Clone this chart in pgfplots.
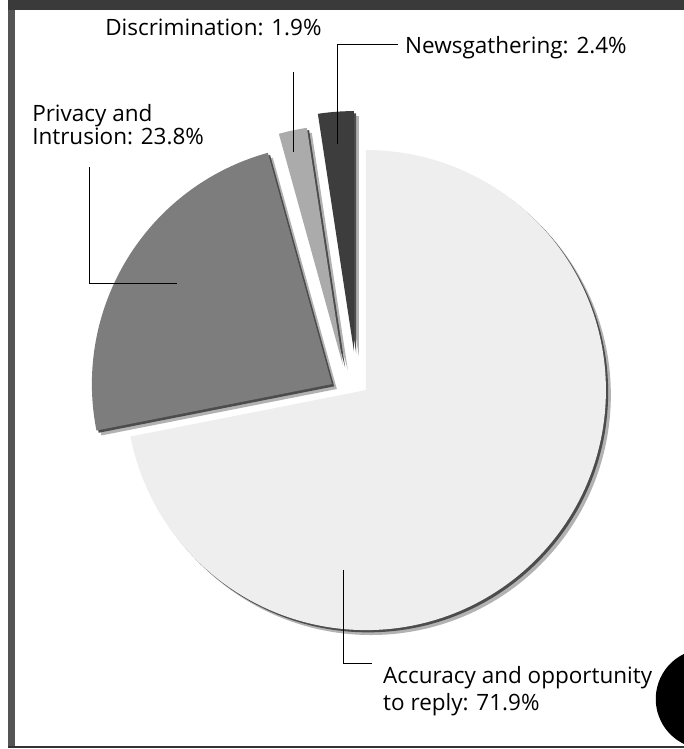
\documentclass[border=0pt]{standalone}
\usepackage{pgfplots}
\pgfplotsset{compat=1.18}
\usepackage{fontspec}
\setmainfont{Open Sans}

\definecolor{framegray}{HTML}{3A3A3A}
\definecolor{bordergray}{HTML}{555555}
\definecolor{accfill}{HTML}{EEEEEE}
\definecolor{privfill}{HTML}{7D7D7D}
\definecolor{discfill}{HTML}{ABABAB}
\definecolor{newsfill}{HTML}{3D3D3D}

% pie radius
\newcommand{\R}{6cm}
% one pie slice: apex x, apex y (axis units), start angle, share in %, style
\newcommand{\slice}[5]{%
  \pgfmathsetmacro{\startang}{#3}%
  \pgfmathsetmacro{\endang}{#3-3.6*#4}%
  \edef\temp{\noexpand\fill[#5] (axis cs:#1,#2) -- ++(\startang:\R)
    arc[start angle=\startang, end angle=\endang, radius=\R] -- cycle;}%
  \temp}
\newcommand{\shadedslice}[5]{%
  \slice{#1}{#2}{#3}{#4}{black!30, xshift=3.5pt, yshift=-3.5pt}%
  \slice{#1}{#2}{#3}{#4}{black!70, xshift=1.6pt, yshift=-1.6pt}%
  \slice{#1}{#2}{#3}{#4}{#5}}

\begin{document}
\begin{tikzpicture}
\begin{axis}[
    x=0.025cm, y=0.025cm,
    xmin=0, xmax=684, ymin=0, ymax=749,
    hide axis, scale only axis, clip=false,
    font=\fontsize{16}{19}\selectfont,
  ]
  % frame
  \fill[white] (axis cs:0,0) rectangle (axis cs:684,749);
  \fill[framegray] (axis cs:8,739) rectangle (axis cs:684,749);
  \fill[bordergray] (axis cs:8,2) rectangle (axis cs:15,739);
  \fill[black!80] (axis cs:8,1) rectangle (axis cs:684,3);
  \fill[black] (axis cs:684,95) arc[start angle=116, end angle=244, radius=1.25cm] -- cycle;

  % slices, clockwise from 12 o'clock
  \shadedslice{366}{359}{90}{71.9}{accfill}
  \shadedslice{332}{365}{90-3.6*71.9}{23.8}{privfill}
  \shadedslice{343}{384}{90-3.6*95.7}{1.9}{discfill}
  \shadedslice{354}{398}{90-3.6*97.6}{2.4}{newsfill}

  % leader lines
  \draw[black, line width=0.6pt] (axis cs:293,677) -- (axis cs:293,597);
  \draw[black, line width=0.6pt] (axis cs:398,705) -- (axis cs:338,705) -- (axis cs:338,605);
  \draw[black, line width=0.6pt] (axis cs:89,582) -- (axis cs:89,466) -- (axis cs:177,466);
  \draw[black, line width=0.6pt] (axis cs:344,179) -- (axis cs:344,86) -- (axis cs:372,86);

  % labels
  \node[anchor=base west, inner sep=0pt] at (axis cs:105,714) {Discrimination: 1.9\%};
  \node[anchor=base west, inner sep=0pt] at (axis cs:405,696) {Newsgathering: 2.4\%};
  \node[anchor=base west, inner sep=0pt] at (axis cs:32,628) {Privacy and};
  \node[anchor=base west, inner sep=0pt] at (axis cs:32,605) {Intrusion: 23.8\%};
  \node[anchor=base west, inner sep=0pt] at (axis cs:383,66) {Accuracy and opportunity};
  \node[anchor=base west, inner sep=0pt] at (axis cs:383,39) {to reply: 71.9\%};
\end{axis}
\pgfresetboundingbox
\path[use as bounding box] (0,0) rectangle (17.1cm,18.725cm);
\end{tikzpicture}
\end{document}
